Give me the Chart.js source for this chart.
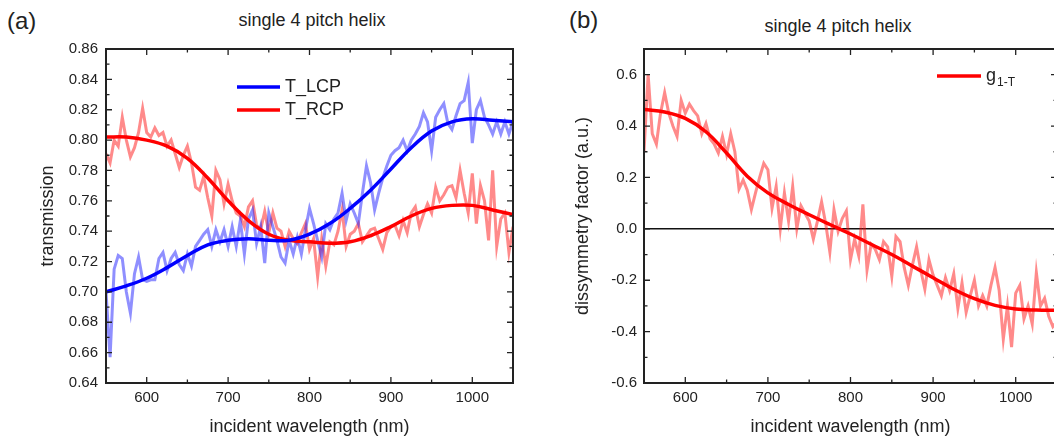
<!DOCTYPE html>
<html>
<head>
<meta charset="utf-8">
<script src="https://cdn.jsdelivr.net/npm/chart.js"></script>
<style>
    body { margin: 0; width: 1054px; height: 438px; overflow: hidden; position: relative; background: #fff; }
    canvas { position: absolute; top: 0; }
    .txt { position: absolute; font-family: "Liberation Sans", Arial, sans-serif; color: #222; white-space: nowrap; }
    .panel { font-size: 24px; line-height: 26px; }
    .title { font-size: 18px; line-height: 20px; width: 240px; text-align: center; }
</style>
</head>
<body>
<div class="txt panel" style="left:7px; top:8px;">(a)</div>
<div class="txt title" style="left:192px; top:10px;">single 4 pitch helix</div>
<div class="txt panel" style="left:569px; top:7px;">(b)</div>
<div class="txt title" style="left:718px; top:16px;">single 4 pitch helix</div>
<canvas id="chartA" width="527" height="438" style="left:0;"></canvas>
<canvas id="chartB" width="541" height="438" style="left:530px;"></canvas>
<script>
// ================================================
// DATA
// ================================================

// measured spectra, 5 nm step
const wavelength = [
    550, 555, 560, 565, 570, 575, 580, 585, 590, 595,
    600, 605, 610, 615, 620, 625, 630, 635, 640, 645,
    650, 655, 660, 665, 670, 675, 680, 685, 690, 695,
    700, 705, 710, 715, 720, 725, 730, 735, 740, 745,
    750, 755, 760, 765, 770, 775, 780, 785, 790, 795,
    800, 805, 810, 815, 820, 825, 830, 835, 840, 845,
    850, 855, 860, 865, 870, 875, 880, 885, 890, 895,
    900, 905, 910, 915, 920, 925, 930, 935, 940, 945,
    950, 955, 960, 965, 970, 975, 980, 985, 990, 995,
    1000, 1005, 1010, 1015, 1020, 1025, 1030, 1035, 1040, 1045,
    1050
];

const lcpRaw = [
    0.700, 0.657, 0.715, 0.724, 0.722, 0.700, 0.686, 0.712, 0.723, 0.708,
    0.707, 0.708, 0.708, 0.722, 0.726, 0.714, 0.722, 0.726, 0.718, 0.714,
    0.725, 0.717, 0.730, 0.734, 0.738, 0.741, 0.730, 0.741, 0.733, 0.741,
    0.730, 0.743, 0.730, 0.747, 0.725, 0.748, 0.754, 0.732, 0.743, 0.719,
    0.752, 0.743, 0.734, 0.723, 0.719, 0.734, 0.725, 0.736, 0.725, 0.741,
    0.755, 0.745, 0.734, 0.723, 0.745, 0.741, 0.748, 0.752, 0.765, 0.747,
    0.758, 0.752, 0.745, 0.765, 0.783, 0.772, 0.754, 0.765, 0.775, 0.783,
    0.790, 0.793, 0.795, 0.800, 0.793, 0.800, 0.804, 0.809, 0.818, 0.812,
    0.793, 0.815, 0.820, 0.824, 0.811, 0.807, 0.816, 0.824, 0.826, 0.838,
    0.798, 0.820, 0.826, 0.815, 0.810, 0.804, 0.812, 0.804, 0.812, 0.804,
    0.812
];

const rcpRaw = [
    0.791, 0.785, 0.800, 0.796, 0.815, 0.800, 0.789, 0.795, 0.805, 0.821,
    0.805, 0.802, 0.808, 0.803, 0.805, 0.796, 0.800, 0.791, 0.782, 0.790,
    0.796, 0.785, 0.769, 0.767, 0.776, 0.762, 0.750, 0.780, 0.774, 0.758,
    0.771, 0.760, 0.752, 0.750, 0.743, 0.756, 0.760, 0.744, 0.741, 0.753,
    0.739, 0.752, 0.742, 0.740, 0.730, 0.740, 0.735, 0.732, 0.739, 0.745,
    0.728, 0.735, 0.710, 0.735, 0.717, 0.733, 0.731, 0.740, 0.754, 0.730,
    0.738, 0.740, 0.745, 0.733, 0.737, 0.741, 0.742, 0.735, 0.728, 0.739,
    0.743, 0.744, 0.737, 0.747, 0.739, 0.752, 0.756, 0.743, 0.751, 0.758,
    0.752, 0.769, 0.760, 0.764, 0.769, 0.770, 0.762, 0.780, 0.765, 0.752,
    0.778, 0.745, 0.770, 0.760, 0.734, 0.780, 0.730, 0.748, 0.752, 0.726,
    0.743
];

const gRaw = [
    0.30, 0.60, 0.37, 0.33, 0.45, 0.53, 0.45, 0.40, 0.36, 0.50,
    0.45, 0.485, 0.46, 0.44, 0.37, 0.41, 0.35, 0.33, 0.295, 0.36,
    0.29, 0.37, 0.30, 0.155, 0.19, 0.15, 0.075, 0.14, 0.20, 0.255,
    0.23, 0.08, 0.165, 0.00, 0.14, 0.03, 0.165, 0.00, 0.09, 0.06,
    0.03, -0.04, 0.03, 0.105, 0.02, -0.09, 0.075, -0.01, 0.04, 0.07,
    -0.12, -0.04, -0.105, 0.095, -0.16, -0.06, -0.08, -0.12, -0.05, -0.07,
    -0.185, -0.03, -0.05, -0.15, -0.22, -0.14, -0.07, -0.16, -0.235, -0.12,
    -0.18, -0.22, -0.26, -0.19, -0.24, -0.175, -0.31, -0.21, -0.325, -0.26,
    -0.20, -0.30, -0.26, -0.30, -0.22, -0.15, -0.24, -0.43, -0.30, -0.46,
    -0.25, -0.22, -0.35, -0.30, -0.37, -0.17, -0.30, -0.27, -0.34, -0.38,
    -0.36
];

// smoothed fits, 25 nm step
const fitWavelength = [550, 575, 600, 625, 650, 675, 700, 725, 750, 775, 800,
                       825, 850, 875, 900, 925, 950, 975, 1000, 1025, 1050];
const lcpFit = [0.700, 0.704, 0.709, 0.716, 0.724, 0.731, 0.734, 0.735, 0.734, 0.734, 0.738,
                0.745, 0.755, 0.767, 0.781, 0.795, 0.806, 0.812, 0.814, 0.813, 0.812];
const rcpFit = [0.802, 0.802, 0.800, 0.796, 0.788, 0.775, 0.760, 0.747, 0.738, 0.734, 0.733,
                0.732, 0.733, 0.737, 0.743, 0.750, 0.755, 0.757, 0.757, 0.754, 0.751];
const gFit = [0.465, 0.455, 0.430, 0.378, 0.295, 0.205, 0.140, 0.095, 0.055, 0.017, -0.020,
              -0.060, -0.100, -0.145, -0.190, -0.235, -0.272, -0.298, -0.312, -0.316, -0.317];

// axes
const xTicks = [600, 700, 800, 900, 1000];
const yTicksA = [0.64, 0.66, 0.68, 0.70, 0.72, 0.74, 0.76, 0.78, 0.80, 0.82, 0.84, 0.86];
const yTicksB = [-0.6, -0.4, -0.2, 0, 0.2, 0.4, 0.6];

// ================================================
// HELPERS / PLUGINS
// ================================================

const FONT = '"Liberation Sans", Arial, sans-serif';
Chart.defaults.font.family = FONT;
Chart.defaults.color = '#222';

function toPoints(xs, ys) {
    return xs.map((x, i) => ({ x: x, y: ys[i] }));
}

function isMajor(v, start, step) {
    const k = (v - start) / step;
    return Math.abs(k - Math.round(k)) < 1e-6;
}

// box frame + inward ticks on all four sides (Origin style)
const frameTicks = {
    id: 'frameTicks',
    afterDatasetsDraw(chart, args, opts) {
        const { ctx, chartArea: a } = chart;
        const xs = chart.scales.x, ys = chart.scales.y;
        ctx.save();
        ctx.strokeStyle = '#222';
        ctx.lineWidth = 1.3;
        ctx.beginPath();
        for (let i = 0; ; i++) {
            const v = xs.min + i * opts.xMinor;
            if (v > xs.max + 1e-9) break;
            const p = xs.getPixelForValue(v);
            const len = isMajor(v, opts.xStart, opts.xMajor) ? 6 : 3.5;
            ctx.moveTo(p, a.bottom); ctx.lineTo(p, a.bottom - len);
            ctx.moveTo(p, a.top); ctx.lineTo(p, a.top + len);
        }
        for (let i = 0; ; i++) {
            const v = ys.min + i * opts.yMinor;
            if (v > ys.max + 1e-9) break;
            const p = ys.getPixelForValue(v);
            const len = isMajor(v, opts.yStart, opts.yMajor) ? 6 : 3.5;
            ctx.moveTo(a.left, p); ctx.lineTo(a.left + len, p);
            ctx.moveTo(a.right, p); ctx.lineTo(a.right - len, p);
        }
        ctx.stroke();
        ctx.lineWidth = 2;
        ctx.strokeRect(a.left, a.top, a.right - a.left, a.bottom - a.top);
        ctx.restore();
    }
};

// legend placed inside the plot
const insetLegend = {
    id: 'insetLegend',
    afterDraw(chart, args, opts) {
        const ctx = chart.ctx;
        ctx.save();
        opts.items.forEach(it => {
            const ds = chart.data.datasets[it.ds];
            ctx.strokeStyle = ds.borderColor;
            ctx.lineWidth = 3.5;
            ctx.beginPath();
            ctx.moveTo(it.x, it.y);
            ctx.lineTo(it.x + opts.lineLen, it.y);
            ctx.stroke();
            ctx.fillStyle = '#222';
            ctx.textBaseline = 'middle';
            ctx.font = '18px ' + FONT;
            const tx = it.x + opts.lineLen + 5;
            ctx.fillText(ds.label, tx, it.y);
            if (it.sub) {
                const w = ctx.measureText(ds.label).width;
                ctx.font = '12px ' + FONT;
                ctx.fillText(it.sub, tx + w + 1, it.y + 7);
            }
        });
        ctx.restore();
    }
};

function xScale() {
    return {
        type: 'linear',
        min: 550,
        max: 1050,
        afterBuildTicks: s => { s.ticks = xTicks.map(v => ({ value: v })); },
        afterFit: s => { s.height = 55; },
        grid: { display: false, drawTicks: false },
        border: { display: false },
        ticks: { padding: 6, font: { size: 15 }, maxRotation: 0, autoSkip: false, callback: v => String(v) },
        title: { display: true, text: 'incident wavelength (nm)', font: { size: 18 }, padding: 0 }
    };
}

// ================================================
// CHART (a) - transmission
// ================================================

new Chart(document.getElementById('chartA'), {
    type: 'line',
    data: {
        datasets: [
            { label: 'T_LCP', data: toPoints(fitWavelength, lcpFit), borderColor: '#0000ff',
              borderWidth: 3.5, tension: 0.4 },
            { label: 'T_RCP', data: toPoints(fitWavelength, rcpFit), borderColor: '#ff0000',
              borderWidth: 3.5, tension: 0.4 },
            { label: 'T_LCP raw', data: toPoints(wavelength, lcpRaw), borderColor: 'rgba(20, 20, 255, 0.48)',
              borderWidth: 3, tension: 0 },
            { label: 'T_RCP raw', data: toPoints(wavelength, rcpRaw), borderColor: 'rgba(255, 10, 10, 0.48)',
              borderWidth: 3, tension: 0 }
        ]
    },
    options: {
        responsive: false,
        animation: false,
        elements: { point: { radius: 0 } },
        layout: { padding: { left: 0, right: 14, top: 49, bottom: 0 } },
        plugins: {
            legend: { display: false },
            tooltip: { enabled: false },
            frameTicks: { xMinor: 50, xMajor: 100, xStart: 600, yMinor: 0.01, yMajor: 0.02, yStart: 0.64 },
            insetLegend: { lineLen: 43, items: [{ ds: 0, x: 237, y: 87 }, { ds: 1, x: 237, y: 110 }] }
        },
        scales: {
            x: xScale(),
            y: {
                min: 0.64,
                max: 0.86,
                afterBuildTicks: s => { s.ticks = yTicksA.map(v => ({ value: v })); },
                afterFit: s => { s.width = 106; },
                grid: { display: false, drawTicks: false },
                border: { display: false },
                ticks: { padding: 8, font: { size: 15 }, callback: v => v.toFixed(2) },
                title: { display: true, text: 'transmission', font: { size: 18 }, padding: { top: 37, bottom: 0 } }
            }
        }
    },
    plugins: [frameTicks, insetLegend]
});

// ================================================
// CHART (b) - dissymmetry factor
// ================================================

new Chart(document.getElementById('chartB'), {
    type: 'line',
    data: {
        datasets: [
            { label: 'g', data: toPoints(fitWavelength, gFit), borderColor: '#ff0000',
              borderWidth: 3.5, tension: 0.4 },
            { label: 'g raw', data: toPoints(wavelength, gRaw), borderColor: 'rgba(255, 10, 10, 0.48)',
              borderWidth: 3, tension: 0 }
        ]
    },
    options: {
        responsive: false,
        animation: false,
        elements: { point: { radius: 0 } },
        layout: { padding: { left: 0, right: 14, top: 49, bottom: 0 } },
        plugins: {
            legend: { display: false },
            tooltip: { enabled: false },
            frameTicks: { xMinor: 50, xMajor: 100, xStart: 600, yMinor: 0.1, yMajor: 0.2, yStart: -0.6 },
            insetLegend: { lineLen: 44, items: [{ ds: 0, x: 407, y: 76, sub: '1-T' }] }
        },
        scales: {
            x: xScale(),
            y: {
                min: -0.6,
                max: 0.7,
                afterBuildTicks: s => { s.ticks = yTicksB.map(v => ({ value: v })); },
                afterFit: s => { s.width = 114; },
                grid: {
                    drawTicks: false,
                    lineWidth: 1.5,
                    color: c => (c.tick && c.tick.value === 0) ? '#111' : 'rgba(0,0,0,0)'
                },
                border: { display: false },
                ticks: { padding: 7, font: { size: 15 }, callback: v => v.toFixed(1) },
                title: { display: true, text: 'dissymmetry factor (a.u.)', font: { size: 18 }, padding: { top: 42, bottom: 0 } }
            }
        }
    },
    plugins: [frameTicks, insetLegend]
});
</script>
</body>
</html>
